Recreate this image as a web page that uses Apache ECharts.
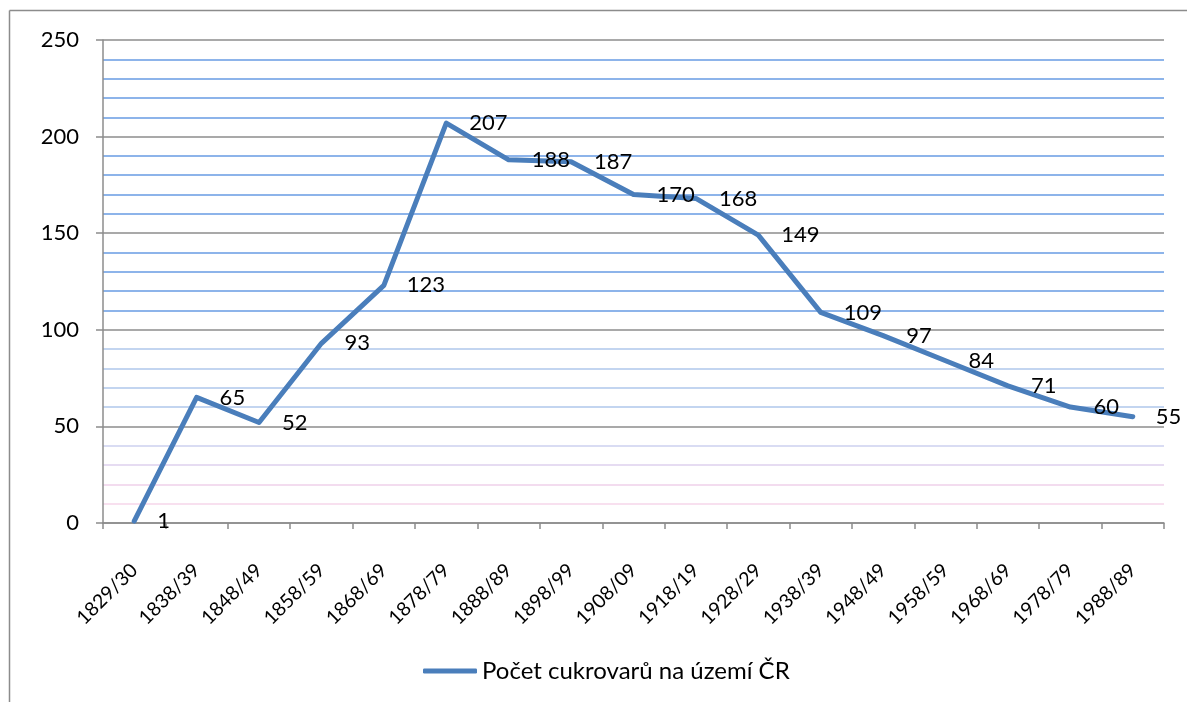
<!DOCTYPE html>
<html>
<head>
<meta charset="utf-8">
<title>Počet cukrovarů na území ČR</title>
<script src="https://cdn.jsdelivr.net/npm/echarts@6/dist/echarts.min.js"></script>
<style>
  html, body { margin: 0; padding: 0; background: #fff; }
  #chart { width: 1187px; height: 702px; }
</style>
</head>
<body>
<div id="chart"></div>
<script>
// data
var periods = ['1829/30', '1838/39', '1848/49', '1858/59', '1868/69', '1878/79', '1888/89', '1898/99',
  '1908/09', '1918/19', '1928/29', '1938/39', '1948/49', '1958/59', '1968/69', '1978/79', '1988/89'];
var factories = [1, 65, 52, 93, 123, 207, 188, 187, 170, 168, 149, 109, 97, 84, 71, 60, 55];
var seriesName = 'Počet cukrovarů na území ČR';
var yMin = 0, yMax = 250, yMajor = 50, yMinor = 10;

var font = 'Lato, "Open Sans", sans-serif';
var lineColor = '#4a7ebb';

// colours of the thin lines every 10 units: pinkish near zero, blue higher up
function minorColor(v) {
  if (v % yMajor === 0) return 'rgba(0,0,0,0)';
  if (v >= 100) return '#8db4ea';
  if (v >= 60) return '#c3d5f0';
  if (v === 40) return '#d9dcf3';
  if (v === 30) return '#e6dcf2';
  if (v === 20) return '#f3dcef';
  return '#f8e0ef';
}
var minorColors = [];
for (var v = yMin; v <= yMax; v += yMinor) minorColors.push(minorColor(v));

var chart = echarts.init(document.getElementById('chart'));
chart.setOption({
  animation: false,
  textStyle: { fontFamily: font },
  graphic: [
    { type: 'line', shape: { x1: 9.5, y1: 10.5, x2: 9.5, y2: 702 }, style: { stroke: '#8c8c8c', lineWidth: 1.5 } },
    { type: 'line', shape: { x1: 9.5, y1: 10.5, x2: 1187, y2: 10.5 }, style: { stroke: '#8c8c8c', lineWidth: 1.5 } }
  ],
  grid: { left: 103, right: 23, top: 40, bottom: 179, containLabel: false },
  legend: {
    left: 418,
    top: 654,
    icon: 'roundRect',
    itemWidth: 54,
    itemHeight: 5,
    itemGap: 10,
    itemStyle: { color: lineColor, opacity: 1 },
    textStyle: { fontFamily: font, fontSize: 24, color: '#000' },
    data: [seriesName]
  },
  xAxis: {
    type: 'category',
    data: periods,
    boundaryGap: true,
    axisLine: { lineStyle: { color: '#8c8c8c', width: 1.5 } },
    axisTick: { show: true, length: 6, lineStyle: { color: '#8c8c8c', width: 1.5 } },
    axisLabel: { rotate: 45, margin: 44, fontSize: 19.5, color: '#000', fontFamily: font, interval: 0 },
    splitLine: { show: false }
  },
  yAxis: [
    {
      type: 'value',
      min: yMin,
      max: yMax,
      interval: yMajor,
      axisLine: { show: true, lineStyle: { color: '#8c8c8c', width: 1.5 } },
      axisTick: { show: true, length: 7, lineStyle: { color: '#8c8c8c', width: 1.5 } },
      axisLabel: { margin: 24, fontSize: 22, color: '#000', fontFamily: font },
      splitLine: { show: true, lineStyle: { color: '#8c8c8c', width: 1.5 } }
    },
    {
      type: 'value',
      min: yMin,
      max: yMax,
      interval: yMinor,
      position: 'left',
      axisLine: { show: false },
      axisTick: { show: false },
      axisLabel: { show: false },
      splitLine: { show: true, lineStyle: { color: minorColors, width: 2 } }
    }
  ],
  series: [{
    name: seriesName,
    type: 'line',
    yAxisIndex: 0,
    data: factories,
    symbol: 'circle',
    symbolSize: 2,
    itemStyle: { color: 'rgba(0,0,0,0)', borderWidth: 0 },
    lineStyle: { color: lineColor, width: 5, join: 'round', cap: 'round' },
    label: {
      show: true,
      position: 'right',
      distance: 22,
      fontSize: 22,
      color: '#000',
      fontFamily: font
    },
    z: 5
  }]
});
</script>
</body>
</html>
